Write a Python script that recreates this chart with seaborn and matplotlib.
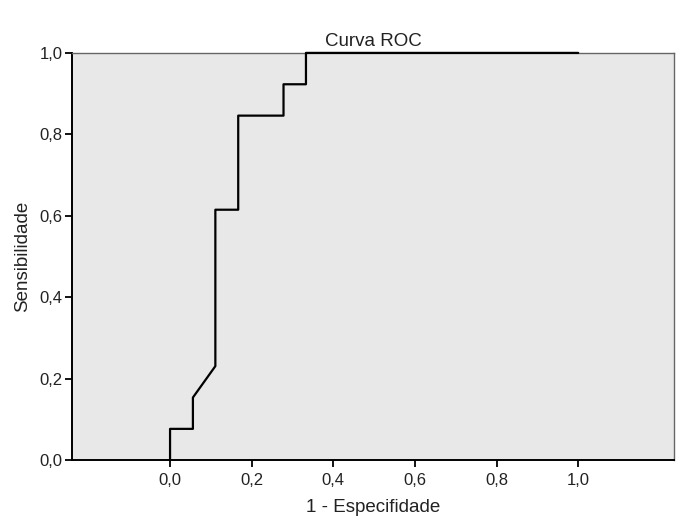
import matplotlib
matplotlib.use("Agg")
import matplotlib.pyplot as plt
import seaborn as sns
import pandas as pd

# ROC curve vertices (1 - specificity, sensitivity)
fpr = [0.0, 0.0, 0.056, 0.056, 0.111, 0.111, 0.167, 0.167, 0.278, 0.278, 0.333, 0.333, 1.0]
tpr = [0.0, 0.077, 0.077, 0.154, 0.231, 0.615, 0.615, 0.846, 0.846, 0.923, 0.923, 1.0, 1.0]
tick_vals = [0.0, 0.2, 0.4, 0.6, 0.8, 1.0]
tick_labels = ["0,0", "0,2", "0,4", "0,6", "0,8", "1,0"]

sns.set_style("white")
plt.rcParams['font.family'] = ['Liberation Sans', 'DejaVu Sans']

df = pd.DataFrame({"fpr": fpr, "tpr": tpr})

fig = plt.figure(figsize=(7.0, 5.29), dpi=100)
ax = fig.add_axes([0.103, 0.130, 0.860, 0.770])
ax.set_facecolor("#e8e8e8")

sns.lineplot(data=df, x="fpr", y="tpr", sort=False, estimator=None,
             color="black", linewidth=1.6, ax=ax, clip_on=False, zorder=5)

ax.set_xlim(-0.24, 1.235)
ax.set_ylim(0, 1.0)
ax.set_xticks(tick_vals)
ax.set_xticklabels(tick_labels)
ax.set_yticks(tick_vals)
ax.set_yticklabels(tick_labels)
ax.tick_params(axis="both", which="major", bottom=True, left=True,
               direction="out", length=5, width=1.3, color="black",
               labelsize=12, labelcolor="#222222", pad=2)
ax.tick_params(axis="x", pad=4)

for s in ["left", "bottom"]:
    ax.spines[s].set_color("black")
    ax.spines[s].set_linewidth(1.4)
for s in ["top", "right"]:
    ax.spines[s].set_color("#666666")
    ax.spines[s].set_linewidth(1.0)

ax.set_xlabel("1 - Especifidade", fontsize=13.5, color="#222222", labelpad=8)
ax.set_ylabel("Sensibilidade", fontsize=13.5, color="#222222", labelpad=6)
ax.set_title("Curva ROC", fontsize=13.5, color="#222222", pad=5)

fig.savefig("out.png", dpi=100, facecolor="white")
